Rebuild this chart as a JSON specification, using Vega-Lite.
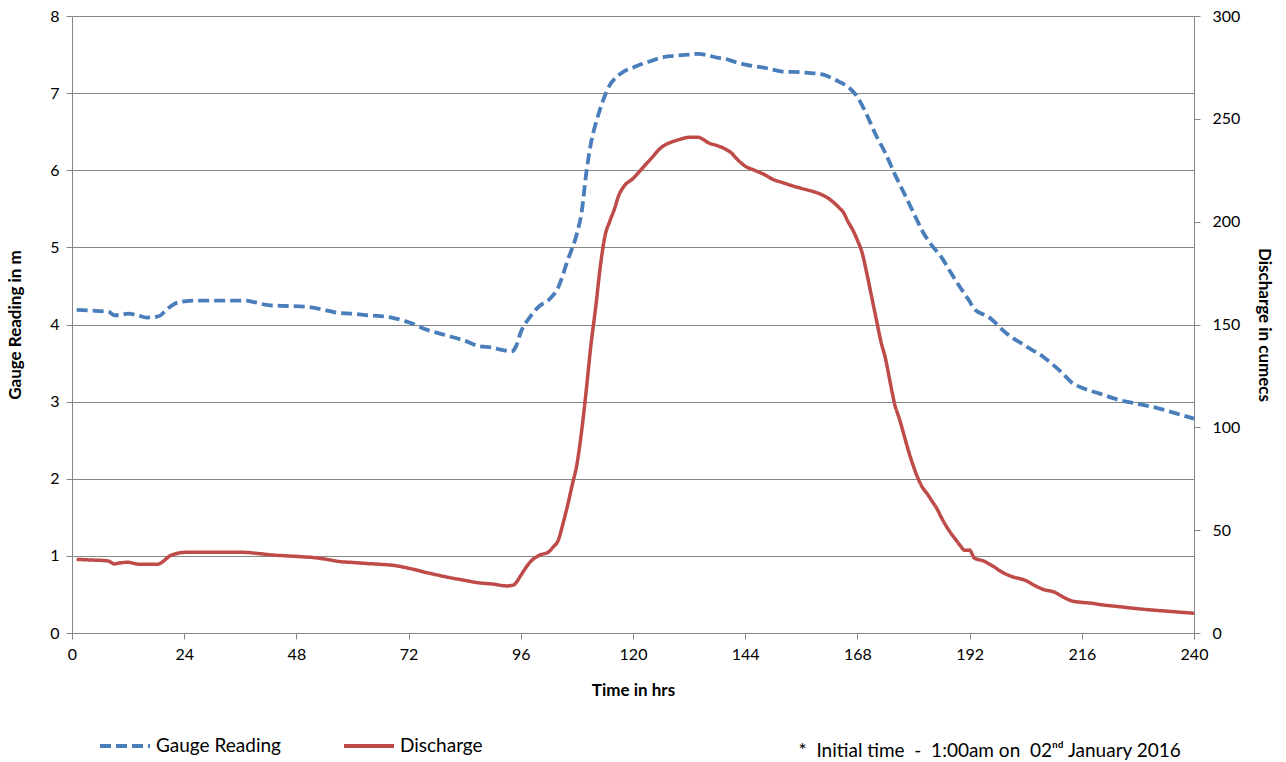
{
  "$schema": "https://vega.github.io/schema/vega-lite/v6.json",
  "width": 1122,
  "height": 617,
  "autosize": "none",
  "padding": {"left": 72, "top": 16, "right": 92, "bottom": 129},
  "background": "white",
  "config": {
    "view": {"stroke": null},
    "font": "Lato",
    "axis": {
      "labelFont": "Lato", "titleFont": "Lato", "labelColor": "#000", "titleColor": "#000",
      "domainColor": "#868686", "tickColor": "#868686", "gridColor": "#868686", "gridOpacity": 1,
      "labelFontSize": 16, "titleFontSize": 17, "titleFontWeight": "bold", "tickSize": 6
    }
  },
  "title": {
    "text": "*\u00a0\u00a0Initial time\u00a0\u00a0-\u00a0\u00a01:00am on\u00a0\u00a002ⁿᵈ January 2016",
    "orient": "bottom", "anchor": "end", "fontSize": 19, "fontWeight": "normal", "font": "Lato",
    "color": "#000", "offset": 0, "dx": -92, "dy": -14
  },
  "data": {"values": [
    {"t": 1, "series": "Gauge Reading", "value": 4.19},
    {"t": 4, "series": "Gauge Reading", "value": 4.18},
    {"t": 7, "series": "Gauge Reading", "value": 4.17},
    {"t": 8, "series": "Gauge Reading", "value": 4.16},
    {"t": 9, "series": "Gauge Reading", "value": 4.12},
    {"t": 10, "series": "Gauge Reading", "value": 4.12},
    {"t": 12, "series": "Gauge Reading", "value": 4.14},
    {"t": 14, "series": "Gauge Reading", "value": 4.12},
    {"t": 16, "series": "Gauge Reading", "value": 4.09},
    {"t": 18, "series": "Gauge Reading", "value": 4.1},
    {"t": 19, "series": "Gauge Reading", "value": 4.12},
    {"t": 20, "series": "Gauge Reading", "value": 4.18},
    {"t": 22, "series": "Gauge Reading", "value": 4.27},
    {"t": 24, "series": "Gauge Reading", "value": 4.3},
    {"t": 26, "series": "Gauge Reading", "value": 4.31},
    {"t": 30, "series": "Gauge Reading", "value": 4.31},
    {"t": 34, "series": "Gauge Reading", "value": 4.31},
    {"t": 37, "series": "Gauge Reading", "value": 4.31},
    {"t": 39, "series": "Gauge Reading", "value": 4.29},
    {"t": 42, "series": "Gauge Reading", "value": 4.25},
    {"t": 46, "series": "Gauge Reading", "value": 4.24},
    {"t": 50, "series": "Gauge Reading", "value": 4.23},
    {"t": 54, "series": "Gauge Reading", "value": 4.19},
    {"t": 57, "series": "Gauge Reading", "value": 4.15},
    {"t": 60, "series": "Gauge Reading", "value": 4.14},
    {"t": 63, "series": "Gauge Reading", "value": 4.12},
    {"t": 66, "series": "Gauge Reading", "value": 4.11},
    {"t": 69, "series": "Gauge Reading", "value": 4.08},
    {"t": 72, "series": "Gauge Reading", "value": 4.03},
    {"t": 76, "series": "Gauge Reading", "value": 3.93},
    {"t": 80, "series": "Gauge Reading", "value": 3.86},
    {"t": 84, "series": "Gauge Reading", "value": 3.79},
    {"t": 87, "series": "Gauge Reading", "value": 3.72},
    {"t": 90, "series": "Gauge Reading", "value": 3.7},
    {"t": 92, "series": "Gauge Reading", "value": 3.67},
    {"t": 94, "series": "Gauge Reading", "value": 3.65},
    {"t": 95, "series": "Gauge Reading", "value": 3.72},
    {"t": 96, "series": "Gauge Reading", "value": 3.9},
    {"t": 98, "series": "Gauge Reading", "value": 4.1},
    {"t": 100, "series": "Gauge Reading", "value": 4.24},
    {"t": 102, "series": "Gauge Reading", "value": 4.32},
    {"t": 104, "series": "Gauge Reading", "value": 4.48},
    {"t": 106, "series": "Gauge Reading", "value": 4.83},
    {"t": 108, "series": "Gauge Reading", "value": 5.18},
    {"t": 109, "series": "Gauge Reading", "value": 5.45},
    {"t": 110, "series": "Gauge Reading", "value": 5.96},
    {"t": 111, "series": "Gauge Reading", "value": 6.35},
    {"t": 112, "series": "Gauge Reading", "value": 6.6},
    {"t": 113, "series": "Gauge Reading", "value": 6.8},
    {"t": 114, "series": "Gauge Reading", "value": 6.97},
    {"t": 115, "series": "Gauge Reading", "value": 7.1},
    {"t": 116, "series": "Gauge Reading", "value": 7.18},
    {"t": 118, "series": "Gauge Reading", "value": 7.28},
    {"t": 120, "series": "Gauge Reading", "value": 7.33},
    {"t": 122, "series": "Gauge Reading", "value": 7.38},
    {"t": 124, "series": "Gauge Reading", "value": 7.42},
    {"t": 126, "series": "Gauge Reading", "value": 7.46},
    {"t": 128, "series": "Gauge Reading", "value": 7.48},
    {"t": 130, "series": "Gauge Reading", "value": 7.49},
    {"t": 132, "series": "Gauge Reading", "value": 7.5},
    {"t": 134, "series": "Gauge Reading", "value": 7.51},
    {"t": 136, "series": "Gauge Reading", "value": 7.49},
    {"t": 138, "series": "Gauge Reading", "value": 7.46},
    {"t": 140, "series": "Gauge Reading", "value": 7.44},
    {"t": 142, "series": "Gauge Reading", "value": 7.4},
    {"t": 144, "series": "Gauge Reading", "value": 7.37},
    {"t": 148, "series": "Gauge Reading", "value": 7.33},
    {"t": 152, "series": "Gauge Reading", "value": 7.28},
    {"t": 156, "series": "Gauge Reading", "value": 7.27},
    {"t": 158, "series": "Gauge Reading", "value": 7.26},
    {"t": 160, "series": "Gauge Reading", "value": 7.25},
    {"t": 162, "series": "Gauge Reading", "value": 7.21},
    {"t": 164, "series": "Gauge Reading", "value": 7.15},
    {"t": 166, "series": "Gauge Reading", "value": 7.08},
    {"t": 168, "series": "Gauge Reading", "value": 6.95},
    {"t": 170, "series": "Gauge Reading", "value": 6.72},
    {"t": 172, "series": "Gauge Reading", "value": 6.45},
    {"t": 174, "series": "Gauge Reading", "value": 6.22},
    {"t": 176, "series": "Gauge Reading", "value": 5.95},
    {"t": 178, "series": "Gauge Reading", "value": 5.7},
    {"t": 180, "series": "Gauge Reading", "value": 5.45},
    {"t": 182, "series": "Gauge Reading", "value": 5.2},
    {"t": 184, "series": "Gauge Reading", "value": 5.02},
    {"t": 186, "series": "Gauge Reading", "value": 4.87},
    {"t": 188, "series": "Gauge Reading", "value": 4.67},
    {"t": 190, "series": "Gauge Reading", "value": 4.48},
    {"t": 192, "series": "Gauge Reading", "value": 4.3},
    {"t": 193, "series": "Gauge Reading", "value": 4.2},
    {"t": 196, "series": "Gauge Reading", "value": 4.1},
    {"t": 200, "series": "Gauge Reading", "value": 3.88},
    {"t": 204, "series": "Gauge Reading", "value": 3.72},
    {"t": 208, "series": "Gauge Reading", "value": 3.57},
    {"t": 210, "series": "Gauge Reading", "value": 3.47},
    {"t": 212, "series": "Gauge Reading", "value": 3.36},
    {"t": 214, "series": "Gauge Reading", "value": 3.24},
    {"t": 216, "series": "Gauge Reading", "value": 3.18},
    {"t": 220, "series": "Gauge Reading", "value": 3.1},
    {"t": 224, "series": "Gauge Reading", "value": 3.02},
    {"t": 228, "series": "Gauge Reading", "value": 2.97},
    {"t": 232, "series": "Gauge Reading", "value": 2.92},
    {"t": 236, "series": "Gauge Reading", "value": 2.85},
    {"t": 240, "series": "Gauge Reading", "value": 2.78},
    {"t": 1, "series": "Discharge", "value": 35.8},
    {"t": 4, "series": "Discharge", "value": 35.5},
    {"t": 7, "series": "Discharge", "value": 35.2},
    {"t": 8, "series": "Discharge", "value": 34.8},
    {"t": 9, "series": "Discharge", "value": 33.6},
    {"t": 10, "series": "Discharge", "value": 34.0},
    {"t": 12, "series": "Discharge", "value": 34.4},
    {"t": 14, "series": "Discharge", "value": 33.5},
    {"t": 16, "series": "Discharge", "value": 33.4},
    {"t": 18, "series": "Discharge", "value": 33.4},
    {"t": 19, "series": "Discharge", "value": 34.0},
    {"t": 20, "series": "Discharge", "value": 35.8},
    {"t": 21, "series": "Discharge", "value": 37.6},
    {"t": 22, "series": "Discharge", "value": 38.4},
    {"t": 24, "series": "Discharge", "value": 39.2},
    {"t": 28, "series": "Discharge", "value": 39.3},
    {"t": 32, "series": "Discharge", "value": 39.3},
    {"t": 37, "series": "Discharge", "value": 39.2},
    {"t": 40, "series": "Discharge", "value": 38.6},
    {"t": 43, "series": "Discharge", "value": 37.9},
    {"t": 46, "series": "Discharge", "value": 37.5},
    {"t": 49, "series": "Discharge", "value": 37.1},
    {"t": 52, "series": "Discharge", "value": 36.6},
    {"t": 55, "series": "Discharge", "value": 35.6},
    {"t": 57, "series": "Discharge", "value": 34.8},
    {"t": 60, "series": "Discharge", "value": 34.3},
    {"t": 63, "series": "Discharge", "value": 33.8},
    {"t": 66, "series": "Discharge", "value": 33.4},
    {"t": 69, "series": "Discharge", "value": 32.8},
    {"t": 72, "series": "Discharge", "value": 31.5},
    {"t": 76, "series": "Discharge", "value": 29.3},
    {"t": 80, "series": "Discharge", "value": 27.3},
    {"t": 84, "series": "Discharge", "value": 25.6},
    {"t": 87, "series": "Discharge", "value": 24.4},
    {"t": 90, "series": "Discharge", "value": 23.8},
    {"t": 93, "series": "Discharge", "value": 22.9},
    {"t": 94.5, "series": "Discharge", "value": 23.4},
    {"t": 95, "series": "Discharge", "value": 24.5},
    {"t": 96, "series": "Discharge", "value": 28},
    {"t": 97, "series": "Discharge", "value": 31.5},
    {"t": 98, "series": "Discharge", "value": 34.5},
    {"t": 100, "series": "Discharge", "value": 37.8},
    {"t": 102, "series": "Discharge", "value": 39.5},
    {"t": 103, "series": "Discharge", "value": 42},
    {"t": 104, "series": "Discharge", "value": 45},
    {"t": 105, "series": "Discharge", "value": 53},
    {"t": 106, "series": "Discharge", "value": 62},
    {"t": 107, "series": "Discharge", "value": 72},
    {"t": 108, "series": "Discharge", "value": 82},
    {"t": 109, "series": "Discharge", "value": 98},
    {"t": 110, "series": "Discharge", "value": 118},
    {"t": 111, "series": "Discharge", "value": 140},
    {"t": 112, "series": "Discharge", "value": 158},
    {"t": 113, "series": "Discharge", "value": 178},
    {"t": 114, "series": "Discharge", "value": 193},
    {"t": 115, "series": "Discharge", "value": 200},
    {"t": 116, "series": "Discharge", "value": 206},
    {"t": 117, "series": "Discharge", "value": 213},
    {"t": 118, "series": "Discharge", "value": 217},
    {"t": 120, "series": "Discharge", "value": 221},
    {"t": 122, "series": "Discharge", "value": 226},
    {"t": 124, "series": "Discharge", "value": 231},
    {"t": 126, "series": "Discharge", "value": 236},
    {"t": 127, "series": "Discharge", "value": 237.5},
    {"t": 128, "series": "Discharge", "value": 238.5},
    {"t": 130, "series": "Discharge", "value": 240},
    {"t": 132, "series": "Discharge", "value": 241},
    {"t": 134, "series": "Discharge", "value": 241},
    {"t": 135, "series": "Discharge", "value": 240},
    {"t": 136, "series": "Discharge", "value": 238.5},
    {"t": 138, "series": "Discharge", "value": 237},
    {"t": 140, "series": "Discharge", "value": 235},
    {"t": 141, "series": "Discharge", "value": 233.5},
    {"t": 142, "series": "Discharge", "value": 231},
    {"t": 144, "series": "Discharge", "value": 227},
    {"t": 146, "series": "Discharge", "value": 225},
    {"t": 148, "series": "Discharge", "value": 223},
    {"t": 150, "series": "Discharge", "value": 220.5},
    {"t": 152, "series": "Discharge", "value": 219},
    {"t": 154, "series": "Discharge", "value": 217.5},
    {"t": 156, "series": "Discharge", "value": 216.2},
    {"t": 158, "series": "Discharge", "value": 215},
    {"t": 160, "series": "Discharge", "value": 213.5},
    {"t": 162, "series": "Discharge", "value": 211},
    {"t": 164, "series": "Discharge", "value": 207},
    {"t": 165, "series": "Discharge", "value": 204.5},
    {"t": 166, "series": "Discharge", "value": 200},
    {"t": 167, "series": "Discharge", "value": 196},
    {"t": 168, "series": "Discharge", "value": 191},
    {"t": 169, "series": "Discharge", "value": 185},
    {"t": 170, "series": "Discharge", "value": 175},
    {"t": 171, "series": "Discharge", "value": 164},
    {"t": 172, "series": "Discharge", "value": 153},
    {"t": 173, "series": "Discharge", "value": 142},
    {"t": 174, "series": "Discharge", "value": 133.5},
    {"t": 175, "series": "Discharge", "value": 122},
    {"t": 176, "series": "Discharge", "value": 111},
    {"t": 177, "series": "Discharge", "value": 104},
    {"t": 178, "series": "Discharge", "value": 96},
    {"t": 179, "series": "Discharge", "value": 88},
    {"t": 180, "series": "Discharge", "value": 81},
    {"t": 181, "series": "Discharge", "value": 75},
    {"t": 182, "series": "Discharge", "value": 70.5},
    {"t": 183, "series": "Discharge", "value": 67.5},
    {"t": 184, "series": "Discharge", "value": 64},
    {"t": 185, "series": "Discharge", "value": 60.5},
    {"t": 186, "series": "Discharge", "value": 56},
    {"t": 187, "series": "Discharge", "value": 52},
    {"t": 188, "series": "Discharge", "value": 48.5},
    {"t": 189, "series": "Discharge", "value": 45.5},
    {"t": 190, "series": "Discharge", "value": 42.5},
    {"t": 191, "series": "Discharge", "value": 40.2},
    {"t": 192, "series": "Discharge", "value": 40.3},
    {"t": 193, "series": "Discharge", "value": 36.5},
    {"t": 195, "series": "Discharge", "value": 35},
    {"t": 197, "series": "Discharge", "value": 32.5},
    {"t": 199, "series": "Discharge", "value": 29.5},
    {"t": 201, "series": "Discharge", "value": 27.5},
    {"t": 204, "series": "Discharge", "value": 25.5},
    {"t": 206, "series": "Discharge", "value": 23},
    {"t": 208, "series": "Discharge", "value": 21},
    {"t": 210, "series": "Discharge", "value": 20},
    {"t": 212, "series": "Discharge", "value": 17.5},
    {"t": 214, "series": "Discharge", "value": 15.5},
    {"t": 216, "series": "Discharge", "value": 14.9},
    {"t": 218, "series": "Discharge", "value": 14.5},
    {"t": 220, "series": "Discharge", "value": 13.8},
    {"t": 224, "series": "Discharge", "value": 12.8},
    {"t": 228, "series": "Discharge", "value": 11.8},
    {"t": 232, "series": "Discharge", "value": 11},
    {"t": 236, "series": "Discharge", "value": 10.3},
    {"t": 240, "series": "Discharge", "value": 9.6}
  ]},
  "encoding": {
    "x": {
      "field": "t", "type": "quantitative",
      "scale": {"domain": [0, 240], "nice": false},
      "axis": {"values": [0, 24, 48, 72, 96, 120, 144, 168, 192, 216, 240], "title": "Time in hrs", "grid": false, "labelPadding": 7, "titlePadding": 20, "labelFlush": false}
    },
    "color": {
      "field": "series", "type": "nominal",
      "scale": {"domain": ["Gauge Reading", "Discharge"], "range": ["#4A7EBB", "#BE4B48"]},
      "legend": {"orient": "none", "legendX": 26, "legendY": 703, "direction": "horizontal", "title": null, "symbolType": "stroke", "symbolSize": 2500, "symbolStrokeWidth": 4, "labelFontSize": 19, "labelFont": "Lato", "labelColor": "#000", "columnPadding": 55, "labelOffset": 4}
    },
    "strokeDash": {
      "field": "series", "type": "nominal",
      "scale": {"domain": ["Gauge Reading", "Discharge"], "range": [[11, 5], [1, 0]]},
      "legend": {"orient": "none", "legendX": 26, "legendY": 703, "direction": "horizontal", "title": null, "symbolType": "stroke", "symbolSize": 2500, "symbolStrokeWidth": 4, "labelFontSize": 19, "labelFont": "Lato", "labelColor": "#000", "columnPadding": 55, "labelOffset": 4}
    }
  },
  "layer": [
    {
      "transform": [{"filter": "datum.series === 'Gauge Reading'"}],
      "mark": {"type": "line", "strokeWidth": 3.8, "interpolate": "monotone"},
      "encoding": {
        "y": {
          "field": "value", "type": "quantitative",
          "scale": {"domain": [0, 8], "nice": false},
          "axis": {"orient": "left", "values": [0, 1, 2, 3, 4, 5, 6, 7, 8], "grid": true, "title": "Gauge Reading in m", "labelPadding": 7, "titlePadding": 25}
        }
      }
    },
    {
      "transform": [{"filter": "datum.series === 'Discharge'"}],
      "mark": {"type": "line", "strokeWidth": 3.5, "interpolate": "monotone"},
      "encoding": {
        "y": {
          "field": "value", "type": "quantitative",
          "scale": {"domain": [0, 300], "nice": false},
          "axis": {"orient": "right", "values": [0, 50, 100, 150, 200, 250, 300], "grid": false, "title": "Discharge in cumecs", "labelPadding": 12, "titlePadding": 15}
        }
      }
    }
  ],
  "resolve": {"scale": {"y": "independent"}}
}
